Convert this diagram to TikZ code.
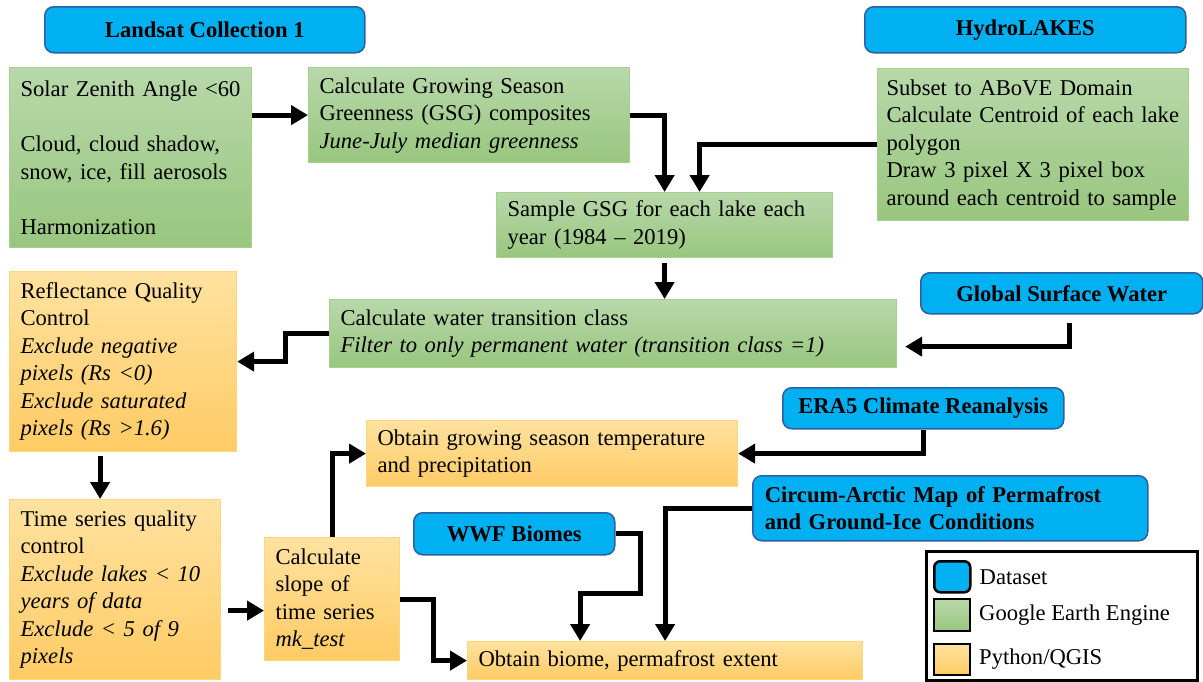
\documentclass[tikz,border=0pt]{standalone}
\usepackage{fontspec}
\setmainfont{Liberation Serif}
\usetikzlibrary{arrows.meta,positioning}

\definecolor{dsblue}{RGB}{0,176,240}
\definecolor{dsedge}{RGB}{47,95,160}
\definecolor{geetop}{RGB}{184,216,170}
\definecolor{geebot}{RGB}{152,198,126}
\definecolor{geeedge}{RGB}{168,208,141}
\definecolor{pytop}{RGB}{255,226,160}
\definecolor{pybot}{RGB}{255,203,100}
\definecolor{pyedge}{RGB}{255,215,120}
\newcommand\boxfont{\fontsize{22.6pt}{27.5pt}\selectfont}

\begin{document}
\begin{tikzpicture}[
        x=1pt, y=-1pt,
        dataset/.style={draw=dsedge,fill=dsblue,line width=1.5pt,rounded corners=9pt,font=\boxfont\bfseries,anchor=north west,inner sep=0pt,align=center},
        gee/.style={draw=geeedge,top color=geetop,bottom color=geebot,line width=1.2pt,font=\boxfont,anchor=north west,inner xsep=11pt,inner ysep=0pt,align=left},
        py/.style={draw=pyedge,top color=pytop,bottom color=pybot,line width=1.2pt,font=\boxfont,anchor=north west,inner xsep=11pt,inner ysep=0pt,align=left},
        link/.style={line width=5pt,-{Triangle[length=17pt,width=19pt]}},
        swatch/.style={draw=black,line width=2pt,anchor=north west,minimum width=36pt,minimum height=31pt,inner sep=0pt},
        lbl/.style={font=\boxfont,inner sep=0pt,anchor=west},
      ]

      \useasboundingbox (0,0) rectangle (1203,681);

      \node[dataset,minimum width=320pt,minimum height=46pt] (landsat) at (44,6) {Landsat Collection 1};
      \node[dataset,minimum width=321pt,minimum height=46pt] (hydro) at (864,6) {HydroLAKES};
      \node[dataset,minimum width=282pt,minimum height=41pt] (gsw) at (920,272) {Global Surface Water};
      \node[dataset,minimum width=281pt,minimum height=41pt] (era) at (782,387) {ERA5 Climate Reanalysis};
      \node[dataset,minimum width=395pt,minimum height=65pt,inner xsep=12pt,text width=371pt,align=left] (circum) at (752,475) {Circum-Arctic Map of Permafrost\\ and Ground-Ice Conditions};
      \node[dataset,minimum width=201pt,minimum height=42pt] (wwf) at (413,512) {WWF Biomes};

      \node[gee,minimum width=242pt,minimum height=180pt,text width=220pt] (solar) at (9,67) {Solar Zenith Angle <60\\[27.5pt] Cloud, cloud shadow,\\ snow, ice, fill aerosols\\[27.5pt] Harmonization};
      \node[gee,minimum width=321pt,minimum height=95pt,text width=299pt] (gsg) at (308,67) {Calculate Growing Season\\ Greenness (GSG) composites\\ \textit{June-July median greenness}};
      \node[gee,minimum width=311pt,minimum height=152pt,inner xsep=9pt,text width=293pt] (hydrobox) at (877,68) {Subset to ABoVE Domain\\ Calculate Centroid of each lake\\ polygon\\ Draw 3 pixel X 3 pixel box\\ around each centroid to sample};
      \node[gee,minimum width=336pt,minimum height=65pt,text width=314pt] (sample) at (496,192) {Sample GSG for each lake each\\ year (1984 -- 2019)};
      \node[gee,minimum width=567pt,minimum height=68pt,text width=545pt] (water) at (329,299) {Calculate water transition class\\ \textit{Filter to only permanent water (transition class =1)}};

      \node[py,minimum width=227pt,minimum height=180pt,text width=205pt] (refl) at (9,271) {Reflectance Quality\\ Control\\ \textit{Exclude negative}\\ \textit{pixels (Rs <0)}\\ \textit{Exclude saturated}\\ \textit{pixels (Rs >1.6)}};
      \node[py,minimum width=211pt,minimum height=180pt,text width=189pt] (tsqc) at (9,499) {Time series quality\\ control\\ \textit{Exclude lakes < 10}\\ \textit{years of data}\\ \textit{Exclude < 5 of 9}\\ \textit{pixels}};
      \node[py,minimum width=135pt,minimum height=123pt,text width=113pt] (slope) at (264,537) {Calculate\\ slope of\\ time series\\ \textit{mk\_test}};
      \node[py,minimum width=371pt,minimum height=66pt,text width=349pt] (temp) at (366,420) {Obtain growing season temperature\\ and precipitation};
      \node[py,minimum width=395pt,minimum height=38pt,text width=373pt] (biome) at (467,641) {Obtain biome, permafrost extent};

      \draw[link] (solar.east |- gsg.west) -- (gsg.west);
      \draw[link] (gsg.east) -| (sample.north);
      \draw[link] (hydrobox.west) -| ([xshift=35pt]sample.north);
      \draw[link,shorten <=5pt] (sample.south) -- (sample.south |- water.north);
      \draw[link] (water.west) -- ++(-44,0) |- (refl.east);
      \coordinate (gw) at ([xshift=8pt]gsw.south);
      \draw[link,shorten <=8pt,shorten >=8pt] (gw) |- ([yshift=-13pt]water.east);
      \coordinate (rq) at ([xshift=-23pt]refl.south);
      \draw[link,shorten <=4pt] (rq) -- (rq |- tsqc.north);
      \coordinate (tsout) at ([shift={(7pt,-21pt)}]tsqc.east);
      \draw[link] (tsout) -- (tsout -| slope.west);
      \draw[link] (slope.north) |- (temp.west);
      \draw[link] (era.south) |- (temp.east);
      \draw[link] (slope.east) -- ++(33,0) |- (biome.west);
      \draw[link] (wwf.east) -- ++(25,0) -- ++(0,60) -| ([xshift=-85pt]biome.north);
      \draw[link] (circum.west) -| (biome.north);

      \node[draw=black,line width=2.5pt,anchor=north west,minimum width=271pt,minimum height=129pt] (legend) at (925,550) {};
      \node[swatch,fill=dsblue,rounded corners=6pt,line width=2.5pt] (swds) at (933,560) {};
      \node[swatch,top color=geetop,bottom color=geebot,minimum height=32pt] (swgee) at (933,598) {};
      \node[swatch,top color=pytop,bottom color=pybot] (swpy) at (933,643) {};
      \node[lbl,right=8pt of swds] (lbds) {Dataset};
      \node[lbl,right=8pt of swgee] (lbgee) {Google Earth Engine};
      \node[lbl,right=8pt of swpy] (lbpy) {Python/QGIS};

    \end{tikzpicture}
\end{document}
